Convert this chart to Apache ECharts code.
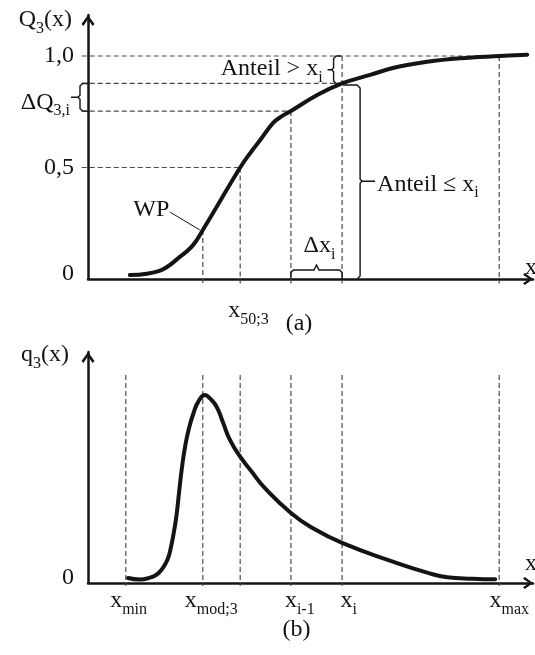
<!DOCTYPE html>
<html>
<head>
<meta charset="utf-8">
<script src="https://cdn.jsdelivr.net/npm/echarts@6/dist/echarts.min.js"></script>
<style>
  html, body { margin: 0; padding: 0; background: #fff; }
  #chart { width: 535px; height: 655px; }
</style>
</head>
<body>
<div id="chart"></div>
<script>
// ---- data ---------------------------------------------------------------
// cumulative distribution Q3(x)
const xCum = [9.4, 16.2, 20.7, 23.6, 25.8, 34.2, 36.4, 38.7, 41.6, 43.5, 45.6, 51.5, 57.1, 63.4, 68.5, 76.2, 83.6, 92.6, 98.7];
const qCum = [0.018, 0.038, 0.100, 0.152, 0.220, 0.500, 0.563, 0.623, 0.700, 0.729, 0.753, 0.825, 0.877, 0.915, 0.946, 0.974, 0.990, 1.000, 1.006];

// density distribution q3(x)
const xDen = [9.0, 11.7, 13.9, 15.3, 16.2, 17.1, 18.0, 18.65, 19.3, 19.9, 20.45, 21.1, 21.8, 22.7, 23.7, 24.8, 26.3, 27.4, 28.9,
              30.3, 31.9, 34.2, 36.8, 39.5, 45.6, 50.6, 57.1, 68.5, 76.2, 80.7, 86.5, 91.5];
const qDen = [0.026, 0.018, 0.028, 0.042, 0.060, 0.088, 0.130, 0.187, 0.265, 0.353, 0.468, 0.597, 0.706, 0.805, 0.882, 0.942, 0.977, 0.959, 0.916,
              0.836, 0.743, 0.656, 0.578, 0.499, 0.364, 0.284, 0.208, 0.111, 0.054, 0.030, 0.022, 0.019];

// characteristic particle sizes
const xMin = 8.5, xMod = 25.8, x50 = 34.2, xPrev = 45.6, xCur = 57.1, xMax = 92.4;
// cumulative levels used by the construction lines
const qWP = 0.22, qPrev = 0.753, qCur = 0.877, qHalf = 0.5, qOne = 1.0;

// tick labels
const topTickValues = [0, 0.5, 1.0];
const topTickTexts = ['0', '0,5', '1,0'];
const bottomTickValues = [0];
const bottomTickTexts = ['0'];
const topXTicks = [x50];
const topXNames = [['x', '50;3']];
const bottomXTicks = [xMin, xMod, xPrev, xCur, xMax];
const bottomXNames = [['x', 'min'], ['x', 'mod;3'], ['x', 'i-1'], ['x', 'i'], ['x', 'max']];

// ---- layout & style -----------------------------------------------------
const SERIF = '"Liberation Serif", "Times New Roman", serif';
const INK = '#141414';
const DASH = '#4a4a4a';
const TOP_YMAX = 264 / 223;
const BOT_YMAX = 1.2;
const topXShift = [-12];
const bottomXShift = [-15.7, -18, -6, -1.7, -9.7];
// open chevron used as arrow head on the axes
const ARROW = 'path://M0,0 L6.5,9 L4.6,11 L0,4.2 L-4.6,11 L-6.5,9 Z';

const RICH = {
  m: { fontFamily: SERIF, fontSize: 24, lineHeight: 34, fill: INK, color: INK },
  s: { fontFamily: SERIF, fontSize: 16, lineHeight: 16, verticalAlign: 'bottom', fill: INK, color: INK },
  z: { fontFamily: SERIF, fontSize: 24, fill: INK, color: INK, padding: [0, 0, 10, 0] }
};

function richText(parts) {
  return parts.map((p, i) => (i % 2 ? '{s|' + p + '}' : '{m|' + p + '}')).join('');
}
function text(x, y, parts, align) {
  return {
    type: 'text',
    style: {
      x: x, y: y, text: richText(parts), rich: RICH,
      align: align || 'left', verticalAlign: 'middle',
      fill: INK, fontFamily: SERIF, fontSize: 24
    }
  };
}
function poly(points, w) {
  return { type: 'polyline', shape: { points: points }, style: { stroke: INK, lineWidth: w || 1.4, fill: 'none' } };
}

// dashed construction lines, each item [x1, y1, x2, y2]
const topGuides = [
  [-1.4, qOne, xMax, qOne],
  [-1.4, qCur, xCur, qCur],
  [-1.4, qPrev, xPrev, qPrev],
  [-1.4, qHalf, x50, qHalf],
  [xMod, qWP, xMod, -0.02],
  [x50, qHalf, x50, -0.02],
  [xPrev, qPrev, xPrev, -0.02],
  [xCur, qOne, xCur, -0.02],
  [xMax, qOne, xMax, -0.02]
];
const bottomGuides = [xMin, xMod, x50, xPrev, xCur, xMax].map(x => [x, 1.08, x, -0.016]);

function guideItem(params, api) {
  const p1 = api.coord([api.value(0), api.value(1)]);
  const p2 = api.coord([api.value(2), api.value(3)]);
  return {
    type: 'line',
    shape: { x1: p1[0], y1: p1[1], x2: p2[0], y2: p2[1] },
    style: { stroke: DASH, lineWidth: 1.2, lineDash: [5, 3] }
  };
}

function topNotes(params, api) {
  const P = (x, y) => api.coord([x, y]);
  const o = P(0, 0), ax = o[0], ay = o[1];
  const topY = P(0, TOP_YMAX)[1];
  const rightX = P(100, 0)[0];
  const yOne = P(0, qOne)[1], yCur = P(0, qCur)[1], yPrev = P(0, qPrev)[1];
  const xc = P(xCur, 0)[0], xp = P(xPrev, 0)[0];
  const wp = P(xMod, qWP);
  const els = [];

  // ΔQ3,i brace on the ordinate
  const bx = ax - 8, ym = (yCur + yPrev) / 2;
  els.push(poly([[ax, yCur], [bx + 2.5, yCur], [bx, yCur + 2.5], [bx, ym - 2], [bx - 2, ym], [bx - 9, ym],
                 [bx - 2, ym], [bx, ym + 2], [bx, yPrev - 2.5], [bx + 2.5, yPrev], [ax, yPrev]]));
  els.push(text(bx - 10, ym + 5, ['ΔQ', '3,i'], 'right'));

  // share above x_i
  const b2 = xc - 8.5, m2 = (yOne + yCur) / 2;
  els.push(poly([[xc - 1, yOne], [b2 + 2.5, yOne], [b2, yOne + 2.5], [b2, m2 - 2], [b2 - 2, m2], [b2 - 6, m2],
                 [b2 - 2, m2], [b2, m2 + 2], [b2, yCur - 2.5], [b2 + 2.5, yCur], [xc - 1, yCur]]));
  els.push(text(b2 - 11, m2 - 1, ['Anteil > x', 'i'], 'right'));

  // share up to x_i
  const b3 = xc + 18, m3 = (yCur + ay) / 2;
  els.push(poly([[xc + 1, yCur + 1.5], [b3 - 3, yCur + 1.5], [b3, yCur + 4.5], [b3, m3 - 2], [b3 + 2, m3], [b3 + 15, m3],
                 [b3 + 2, m3], [b3, m3 + 2], [b3, ay - 3], [b3 - 3, ay]]));
  els.push(text(b3 + 17, m3 + 3, ['Anteil ≤ x', 'i'], 'left'));

  // class width Δx_i
  const yb = ay - 9, xm = (xp + xc) / 2;
  els.push(poly([[xp, ay], [xp, yb + 2.5], [xp + 2.5, yb], [xm - 2.5, yb], [xm, yb - 5], [xm + 2.5, yb],
                 [xc - 2.5, yb], [xc, yb + 2.5], [xc, ay]]));
  els.push(text(xm - 13, yb - 24, ['Δx', 'i'], 'left'));

  // inflection point
  els.push({ type: 'line', shape: { x1: wp[0] - 33, y1: wp[1] - 18, x2: wp[0] - 3, y2: wp[1] },
             style: { stroke: INK, lineWidth: 1 } });
  els.push(text(wp[0] - 51.5, wp[1] - 20, ['WP'], 'center'));

  topXTicks.forEach((v, i) => els.push(text(P(v, 0)[0] + topXShift[i], ay + 31.5, topXNames[i], 'left')));
  els.push(text(ax - 16, topY + 5, ['Q', '3', '(x)'], 'right'));
  els.push(text(rightX - 8, ay - 11.6, ['x'], 'left'));
  els.push(text(ax + 211, ay + 45, ['(a)'], 'center'));
  return { type: 'group', children: els };
}

function bottomNotes(params, api) {
  const P = (x, y) => api.coord([x, y]);
  const o = P(0, 0), ax = o[0], ay = o[1];
  const topY = P(0, BOT_YMAX)[1];
  const rightX = P(100, 0)[0];
  const els = [];
  bottomXTicks.forEach((v, i) => els.push(text(P(v, 0)[0] + bottomXShift[i], ay + 17.4, bottomXNames[i], 'left')));
  els.push(text(ax - 19, topY + 3, ['q', '3', '(x)'], 'right'));
  els.push(text(rightX - 8, ay - 19, ['x'], 'left'));
  els.push(text(ax + 208.5, ay + 47, ['(b)'], 'center'));
  return { type: 'group', children: els };
}

function tickFormatter(values, texts) {
  return function (v) {
    const i = values.findIndex(t => Math.abs(t - v) < 1e-9);
    if (i < 0) return '';
    return v === 0 ? '{z|' + texts[i] + '}' : texts[i];
  };
}

function xAxisFor(gridIndex) {
  return {
    gridIndex: gridIndex, type: 'value', min: 0, max: 100,
    axisLine: { show: true, onZero: true, lineStyle: { color: INK, width: 2.5 },
                symbol: ['none', ARROW], symbolSize: [13, 10], symbolOffset: [0, -5] },
    axisTick: { show: false }, axisLabel: { show: false }, splitLine: { show: false }
  };
}
function yAxisFor(gridIndex, max, values, texts) {
  return {
    gridIndex: gridIndex, type: 'value', min: 0, max: max,
    axisLine: { show: true, onZero: true, lineStyle: { color: INK, width: 2.5 },
                symbol: ['none', ARROW], symbolSize: [13, 11], symbolOffset: [0, -5.5] },
    axisTick: { show: false }, splitLine: { show: false },
    axisLabel: {
      show: true, customValues: values, formatter: tickFormatter(values, texts),
      margin: 14, fontFamily: SERIF, fontSize: 24, color: INK, rich: { z: RICH.z }
    }
  };
}

const chart = echarts.init(document.getElementById('chart'), null, { renderer: 'canvas' });
chart.setOption({
  animation: false,
  backgroundColor: '#fff',
  grid: [
    { left: 88, top: 15, width: 445, height: 264 },
    { left: 88, top: 352, width: 445, height: 231 }
  ],
  xAxis: [xAxisFor(0), xAxisFor(1)],
  yAxis: [
    yAxisFor(0, TOP_YMAX, topTickValues, topTickTexts),
    yAxisFor(1, BOT_YMAX, bottomTickValues, bottomTickTexts)
  ],
  series: [
    { type: 'custom', name: 'guides (a)', xAxisIndex: 0, yAxisIndex: 0, z: 1, silent: true,
      renderItem: guideItem, data: topGuides },
    { type: 'custom', name: 'guides (b)', xAxisIndex: 1, yAxisIndex: 1, z: 1, silent: true,
      renderItem: guideItem, data: bottomGuides },
    { type: 'line', name: 'Q3', xAxisIndex: 0, yAxisIndex: 0, z: 3, clip: false,
      data: xCum.map((x, i) => [x, qCum[i]]), smooth: 0.4, symbol: 'none',
      lineStyle: { color: INK, width: 4, cap: 'round', join: 'round' } },
    { type: 'line', name: 'q3', xAxisIndex: 1, yAxisIndex: 1, z: 3, clip: false,
      data: xDen.map((x, i) => [x, qDen[i]]), smooth: 0.5, symbol: 'none',
      lineStyle: { color: INK, width: 4, cap: 'round', join: 'round' } },
    { type: 'custom', name: 'notes (a)', xAxisIndex: 0, yAxisIndex: 0, z: 4, silent: true,
      renderItem: topNotes, data: [[0, 0]] },
    { type: 'custom', name: 'notes (b)', xAxisIndex: 1, yAxisIndex: 1, z: 4, silent: true,
      renderItem: bottomNotes, data: [[0, 0]] }
  ]
});
</script>
</body>
</html>
